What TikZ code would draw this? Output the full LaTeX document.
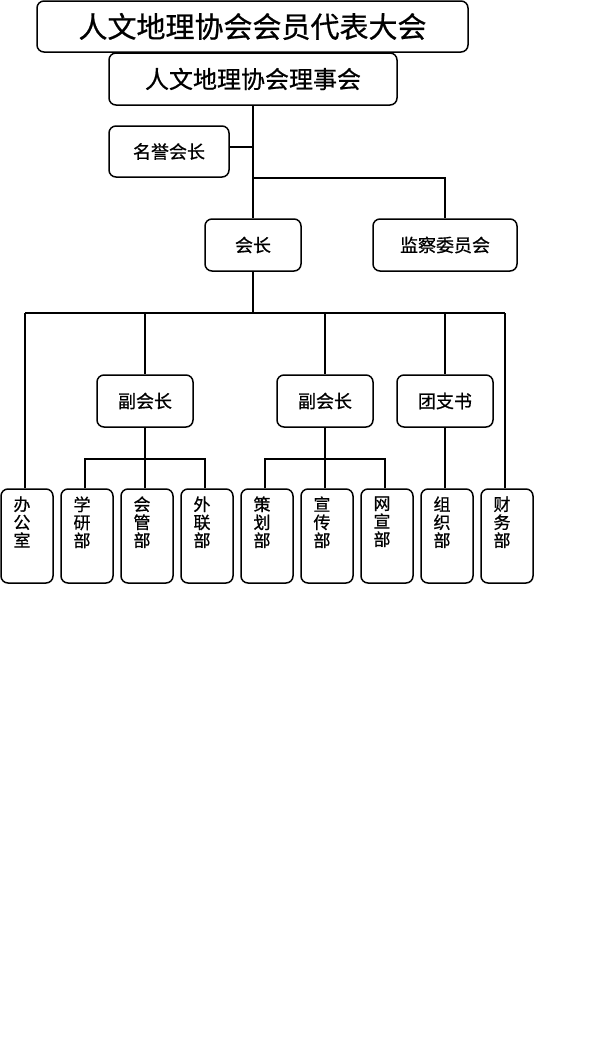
\documentclass[tikz,border=0pt]{standalone}
\usepackage{fontspec}
\setmainfont{Noto Sans CJK SC}[FakeBold=0.7]
\begin{document}
\begin{tikzpicture}[x=1pt,y=-1pt,
  box/.style={draw, line width=1.5pt, rounded corners=7pt, inner sep=0pt, fill=white},
  hbox/.style={box, font=\fontsize{18pt}{18pt}\selectfont},
  dept/.style={box, minimum width=52pt, minimum height=94pt},
  vtext/.style={anchor=north, align=center, inner sep=0pt, font=\fontsize{17pt}{18pt}\selectfont},
  conn/.style={line width=1.5pt}]
\useasboundingbox (0,0) rectangle (594,1052);
% top levels
\node[box, minimum width=431pt, minimum height=51pt, font=\fontsize{29pt}{29pt}\selectfont] (top) at (252.5,26.5) {人文地理协会会员代表大会};
\node[box, minimum width=288pt, minimum height=52pt, font=\fontsize{24pt}{24pt}\selectfont] (board) at (253,79) {人文地理协会理事会};
\node[hbox, minimum width=120pt, minimum height=51pt] (hon) at (169,151.5) {名誉会长};
\node[hbox, minimum width=96pt, minimum height=52pt] (pres) at (253,245) {会长};
\node[hbox, minimum width=144pt, minimum height=52pt] (sup) at (445,245) {监察委员会};
\node[hbox, minimum width=96pt, minimum height=52pt] (vp1) at (145,401) {副会长};
\node[hbox, minimum width=96pt, minimum height=52pt] (vp2) at (325,401) {副会长};
\node[hbox, minimum width=96pt, minimum height=52pt] (yl) at (445,401) {团支书};
% departments
\foreach \i/\name/\txt in {0/d1/办\\公\\室, 1/d2/学\\研\\部, 2/d3/会\\管\\部, 3/d4/外\\联\\部, 4/d5/策\\划\\部, 5/d6/宣\\传\\部, 6/d7/网\\宣\\部, 7/d8/组\\织\\部, 8/d9/财\\务\\部}{
  \node[dept] (\name) at (27+60*\i,536) {};
  \node[vtext] (\name t) at ([xshift=-5pt,yshift=-8pt]\name.north) {\txt};
  \coordinate (\name c) at ([xshift=-2pt]\name.north);
}
% connectors
\coordinate (jhon) at (253,147);
\coordinate (jsup) at (253,178);
\coordinate (bus) at (253,313);
\draw[conn] (board.south) -- (pres.north);
\draw[conn] (hon.east |- jhon) -- (jhon);
\draw[conn] (jsup) -| (sup.north);
\draw[conn] (pres.south) -- (bus);
\draw[conn] (d1c |- bus) -- (d9c |- bus);
\draw[conn] (d1c |- bus) -- (d1c);
\draw[conn] (vp1.north |- bus) -- (vp1.north);
\draw[conn] (vp2.north |- bus) -- (vp2.north);
\draw[conn] (yl.north |- bus) -- (yl.north);
\draw[conn] (d9c |- bus) -- (d9c);
\coordinate (sub1) at (145,459);
\coordinate (sub2) at (325,459);
\draw[conn] (vp1.south) -- (d3c);
\draw[conn] (d2c) |- (sub1) -| (d4c);
\draw[conn] (vp2.south) -- (d6c);
\draw[conn] (d5c) |- (sub2) -| (d7c);
\draw[conn] (yl.south) -- (d8c);
\end{tikzpicture}
\end{document}
